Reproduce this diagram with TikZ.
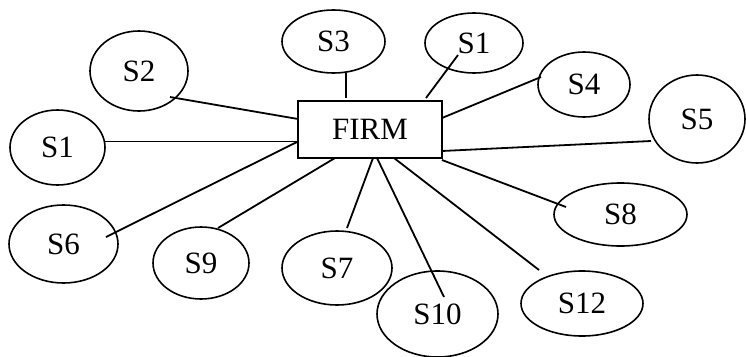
\documentclass[tikz,border=0pt]{standalone}
\usepackage{fontspec}
\setmainfont{Liberation Serif}
\usetikzlibrary{shapes.geometric}
\begin{document}
\begin{tikzpicture}[x=1pt,y=-1pt,
  stake/.style={ellipse,draw,line width=1.6pt,inner sep=0pt,
    font=\fontsize{31}{34}\selectfont},
  firmbox/.style={rectangle,draw,line width=1.8pt,minimum width=144pt,
    minimum height=57pt,inner sep=0pt,font=\fontsize{31}{34}\selectfont},
  link/.style={line width=1.8pt}]
\useasboundingbox (0,0) rectangle (746,356);

% central firm
\node[firmbox] (firm) at (370,129.5) {FIRM};

% stakeholder ellipses
\node[stake,minimum width=98pt,minimum height=80pt]  (s2)  at (139,71)     {S2};
\node[stake,minimum width=103pt,minimum height=63pt] (s3)  at (333.5,41.5) {S3};
\node[stake,minimum width=98pt,minimum height=60pt]  (s1b) at (474,43)     {S1};
\node[stake,minimum width=92pt,minimum height=65pt]  (s4)  at (584,84.5)   {S4};
\node[stake,minimum width=96pt,minimum height=88pt]  (s5)  at (697,119)    {S5};
\node[stake,minimum width=95pt,minimum height=75pt]  (s1a) at (57.5,147.5) {S1};
\node[stake,minimum width=109pt,minimum height=78pt] (s6)  at (63.5,244)   {S6};
\node[stake,minimum width=96pt,minimum height=72pt]  (s9)  at (201,263)    {S9};
\node[stake,minimum width=110pt,minimum height=74pt] (s7)  at (337,268)    {S7};
\node[stake,minimum width=121pt,minimum height=86pt] (s10) at (437.5,314)  {S10};
\node[stake,minimum width=122pt,minimum height=65pt] (s12) at (582,303.5)  {S12};
\node[stake,minimum width=133pt,minimum height=63pt] (s8)  at (620.5,214.5){S8};

% links from the firm to each stakeholder
\draw[link] ([shift={(-72,-10.5)}]firm.center) -- ([shift={(31,26)}]s2.center);
\draw[link] ([shift={(-72,12)}]firm.center)    -- ([shift={(47.5,-6)}]s1a.center);
\draw[link] ([shift={(-73,12.5)}]firm.center)  -- ([shift={(42.5,-7)}]s6.center);
\draw[link] ([shift={(-35,28.5)}]firm.center)  -- ([shift={(17,-35)}]s9.center);
\draw[link] ([shift={(3,28.5)}]firm.center)    -- ([shift={(10,-40)}]s7.center);
\draw[link] ([shift={(7,28.5)}]firm.center)    -- ([shift={(6.5,-17)}]s10.center);
\draw[link] ([shift={(24,28.5)}]firm.center)   -- ([shift={(-43,-33.5)}]s12.center);
\draw[link] ([shift={(72,30.5)}]firm.center)   -- ([shift={(-54.5,-7.5)}]s8.center);
\draw[link] ([shift={(72,21.5)}]firm.center)   -- ([shift={(-46,22)}]s5.center);
\draw[link] ([shift={(72,-11.5)}]firm.center)  -- ([shift={(-43,-7.5)}]s4.center);
\draw[link] ([shift={(56,-31.5)}]firm.center)  -- ([shift={(-16,12)}]s1b.center);
\draw[link] ([shift={(-24,-31.5)}]firm.center) -- ([shift={(12.5,31.5)}]s3.center);
\end{tikzpicture}
\end{document}
